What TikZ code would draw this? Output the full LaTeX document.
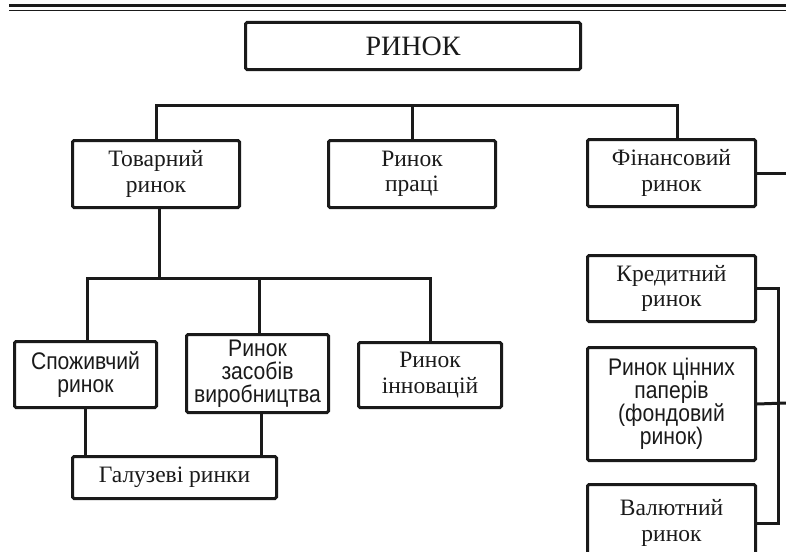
\documentclass[tikz,border=0pt]{standalone}
\usepackage{fontspec}
\setmainfont{Liberation Serif}
\newfontfamily\sansf[FakeStretch=0.88]{Liberation Sans}
\begin{document}
\begin{tikzpicture}[x=1pt,y=-1pt,
  box/.style={draw=ink, line width=3pt, rounded corners=1.5pt, fill=white,
    inner sep=0pt, align=center, text=ink,
    font=\fontsize{23.5}{25.5}\selectfont},
  sbox/.style={box, font=\sansf\fontsize{24}{23}\selectfont},
  link/.style={draw=ink, line width=3pt, line cap=rect}]
\definecolor{ink}{HTML}{1A1A1A}
\clip (0,0) rectangle (786,551);
% header rules
\draw[ink, line width=3.5pt] (9,5.5) -- (786,5.5);
\draw[ink, line width=1.2pt] (9,10.5) -- (786,10.5);
% nodes
\node[box, minimum width=335pt, minimum height=47pt, font=\fontsize{28}{30}\selectfont] (root) at (413,46) {РИНОК};
\node[box, minimum width=167pt, minimum height=67pt] (tov) at (156,174) {Товарний\\ринок};
\node[box, minimum width=167pt, minimum height=67pt] (prac) at (412,174) {Ринок\\праці};
\node[box, minimum width=168pt, minimum height=67pt] (fin) at (671.5,173) {Фінансовий\\ринок};
\node[box, minimum width=168pt, minimum height=66pt] (kred) at (671.5,288.5) {Кредитний\\ринок};
\node[sbox, minimum width=168pt, minimum height=113pt] (cinn) at (671.5,404) {Ринок цінних\\паперів\\(фондовий\\ринок)};
\node[box, minimum width=168pt, minimum height=77pt] (val) at (671.5,523) {Валютний\\ринок};
\node[sbox, minimum width=142pt, minimum height=66pt] (spoz) at (85.5,374.5) {Споживчий\\ринок};
\node[sbox, minimum width=142pt, minimum height=78pt] (zas) at (257.5,373.5) {Ринок\\засобів\\виробництва};
\node[box, minimum width=143pt, minimum height=65pt] (inn) at (430,375) {Ринок\\інновацій};
\node[box, minimum width=204pt, minimum height=42pt] (gal) at (174.5,477.5) {Галузеві ринки};
% free ends
\coordinate (finout) at (786,173);
\coordinate (cinnout) at (786,403);
% connectors
\draw[link] (tov.north) -- ++(0,-34) -| ([xshift=5.5pt]fin.north);
\draw[link] (prac.north) -- ++(0,-34);
\draw[link] ([xshift=3pt]tov.south) -- ++(0,69) coordinate (bus);
\draw[link] ([xshift=1.5pt]spoz.north) |- (bus) -| (inn.north);
\draw[link] ([xshift=1.5pt]zas.north) -- ++(0,-55);
\draw[link] (spoz.south) -- (spoz.south |- gal.north);
\draw[link] ([xshift=3.5pt]zas.south) -- ([xshift=3.5pt]zas.south |- gal.north);
\draw[link] (fin.east) -- (finout);
\draw[link] (cinn.east) -- (cinnout);
\draw[link] (kred.east) -- ++(21,0) |- (val.east);
\end{tikzpicture}
\end{document}
